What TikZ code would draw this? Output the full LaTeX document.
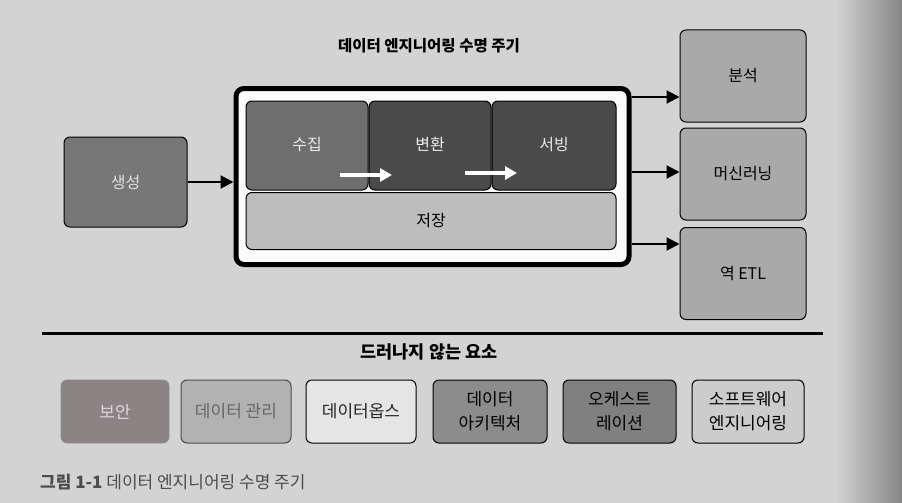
\documentclass[tikz,border=0pt]{standalone}
\usepackage{fontspec}
\setmainfont{Noto Sans CJK KR}
\usetikzlibrary{arrows.meta,calc}
\definecolor{page}{HTML}{D3D3D3}
\definecolor{pagedark}{HTML}{868686}
\definecolor{midgray}{HTML}{6E6E6E}
\definecolor{darkgray}{HTML}{4A4A4A}
\definecolor{lightbox}{HTML}{BDBDBD}
\definecolor{outbox}{HTML}{A9A9A9}
\definecolor{genbox}{HTML}{777777}
\definecolor{secbox}{HTML}{8C8484}
\tikzset{
  x=1pt, y=-1pt,
  box/.style={draw=black, line width=1pt, rounded corners=6pt, inner sep=0pt, align=center, font=\fontsize{16}{19}\selectfont},
  arr/.style={draw=black, line width=2pt, -{Triangle[length=13pt,width=13pt]}},
  warr/.style={draw=white, line width=3.5pt, -{Triangle[length=12pt,width=13pt]}},
  bot/.style={box, minimum width=110pt, minimum height=63pt, font=\fontsize{17}{24}\selectfont},
  hdr/.style={font=\fontsize{15.5}{18}\selectfont\bfseries}
}
\begin{document}
\begin{tikzpicture}
\useasboundingbox (0,0) rectangle (902,503);
\fill[page] (0,0) rectangle (902,503);
\shade[left color=page, right color=pagedark] (835,0) rectangle (902,503);

\node[hdr] (title) at (429,46) {데이터 엔지니어링 수명 주기};

\node[box, fill=genbox, text=black!12, minimum width=123pt, minimum height=90pt] (gen) at (125.5,182) {생성};

\node[draw=black, line width=5pt, rounded corners=8pt, fill=white!92!page, minimum width=393pt, minimum height=176pt] (life) at (432.5,176.5) {};

\node[box, fill=midgray, text=white!92!black, minimum width=122pt, minimum height=89pt] (ing) at (307,145.5) {\raisebox{3pt}{수집}};
\node[box, fill=darkgray, text=white!92!black, minimum width=122pt, minimum height=89pt] (trans) at (430,145.5) {\raisebox{3pt}{변환}};
\node[box, fill=darkgray, text=white!92!black, minimum width=124pt, minimum height=89pt] (serv) at (554,145.5) {\raisebox{4pt}{서빙}};
\node[box, fill=lightbox, minimum width=370pt, minimum height=57pt] (stor) at (431,221) {저장};

\draw[warr] (340,175) -- (392,175);
\draw[warr] (465,173) -- (517,173);

\node[box, fill=outbox, minimum width=126pt, minimum height=92pt] (ana) at (743,76) {분석};
\node[box, fill=outbox, minimum width=126pt, minimum height=92pt] (ml) at (743,174) {머신러닝};
\node[box, fill=outbox, minimum width=126pt, minimum height=92pt] (retl) at (743,273.5) {역 ETL};

\draw[arr] (gen.east) -- (life.west |- gen.east);
\draw[arr] (life.east |- 0,97) -- (ana.west |- 0,97);
\draw[arr] (life.east |- 0,172) -- (ml.west |- 0,172);
\draw[arr] (life.east |- 0,244) -- (retl.west |- 0,244);

\coordinate (rl) at (42,333);
\coordinate (rr) at (823,333);
\draw[line width=3pt, black] (rl) -- (rr);

\node[hdr, font=\fontsize{17.5}{20}\selectfont\bfseries] (und) at (429,352) {드러나지 않는 요소};

\node[bot, draw=black!45, line width=0.6pt, fill=secbox, text=black!15, minimum width=108pt] (sec) at (115,411.5) {보안};
\node[bot, draw=black!70, fill=black!30, text=black!60] (dm) at (236,411.5) {데이터 관리};
\node[bot, fill=black!10, text=black!85] (dops) at (361,411.5) {데이터옵스};
\node[bot, fill=black!45, minimum width=114pt] (darch) at (490,411.5) {데이터\\아키텍처};
\node[bot, fill=black!50, minimum width=113pt] (orch) at (619.5,411.5) {오케스트\\레이션};
\node[bot, fill=black!20, minimum width=112pt] (swe) at (748,411.5) {소프트웨어\\엔지니어링};

\node[anchor=west, inner sep=0pt, text=black!70, font=\fontsize{17}{20}\selectfont] (cap) at (40,482) {\textbf{그림 1-1} 데이터 엔지니어링 수명 주기};
\end{tikzpicture}
\end{document}
